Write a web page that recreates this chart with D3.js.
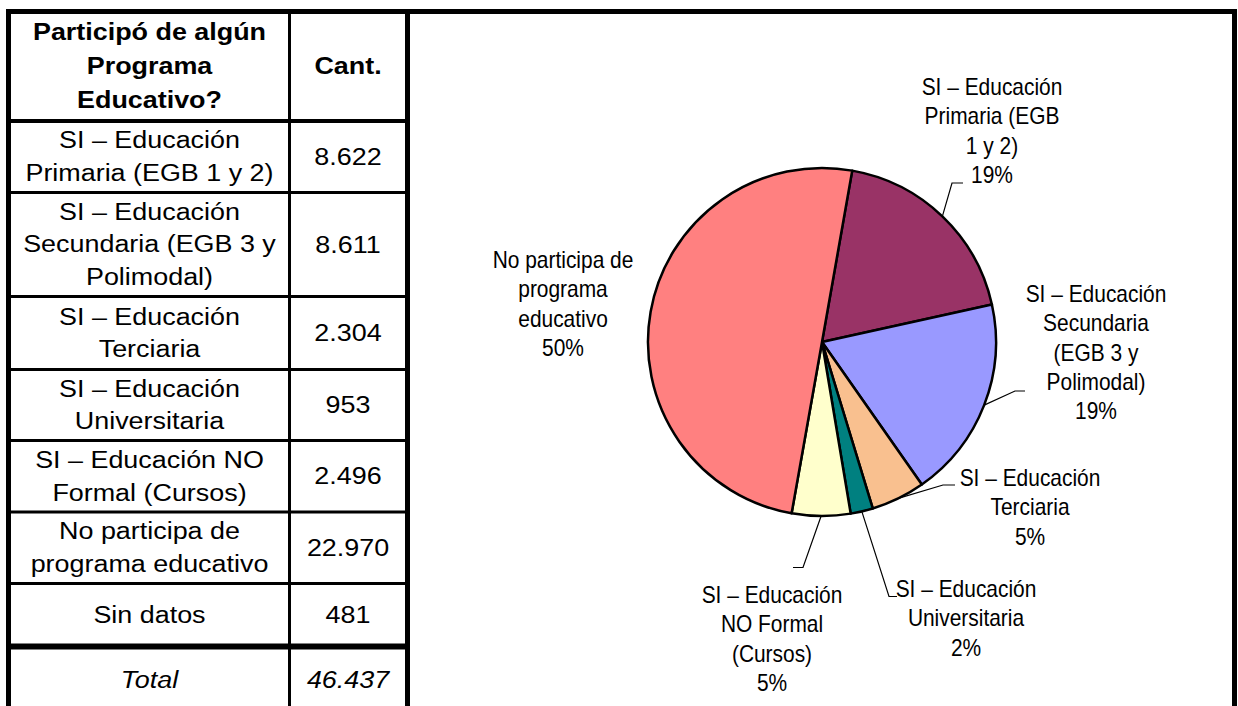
<!DOCTYPE html>
<html>
<head>
<meta charset="utf-8">
<script src="https://cdn.jsdelivr.net/npm/d3@7"></script>
<style>
  body { margin: 0; background: #fff; }
  svg { display: block; font-family: "Liberation Sans", Arial, sans-serif; }
</style>
</head>
<body>
<svg width="1238" height="706"></svg>
<script>
// table data
const headerLines = ["Participó de algún", "Programa", "Educativo?"];
const countHeader = "Cant.";
const rowLabels = [
  ["SI – Educación", "Primaria (EGB 1 y 2)"],
  ["SI – Educación", "Secundaria (EGB 3 y", "Polimodal)"],
  ["SI – Educación", "Terciaria"],
  ["SI – Educación", "Universitaria"],
  ["SI – Educación NO", "Formal (Cursos)"],
  ["No participa de", "programa educativo"],
  ["Sin datos"]
];
const counts = [8622, 8611, 2304, 953, 2496, 22970, 481];
const totalLabel = "Total";

// pie data (Sin datos not drawn)
const pieKeys = ["primaria", "secundaria", "terciaria", "universitaria", "noformal", "noparticipa"];
const pieValues = counts.slice(0, 6);
const pieLabels = [
  ["SI – Educación", "Primaria (EGB", "1 y 2)"],
  ["SI – Educación", "Secundaria", "(EGB 3 y", "Polimodal)"],
  ["SI – Educación", "Terciaria"],
  ["SI – Educación", "Universitaria"],
  ["SI – Educación", "NO Formal", "(Cursos)"],
  ["No participa de", "programa", "educativo"]
];
const pieColors = ["#993366", "#9999FF", "#F9C08F", "#008080", "#FFFFCC", "#FF8080"];

// label placement (Excel style, leader elbows)
const labelLayout = {
  primaria:      { elbow: [952, 183], end: [963, 183], text: [992, 95] },
  secundaria:    { elbow: [1015, 391], end: [1025, 391], text: [1096, 302] },
  terciaria:     { elbow: [943, 485], end: [955, 485], text: [1030, 486] },
  universitaria: { elbow: [889, 596.5], end: [897, 596.5], text: [966, 597] },
  noformal:      { elbow: [803, 567.5], end: [793, 567.5], text: [772, 603] },
  noparticipa:   { text: [563, 268] }
};

const svg = d3.select("svg");
const es = d3.formatLocale({decimal: ",", thousands: ".", grouping: [3], currency: ["$", ""]});
const fmt = es.format(",");

// writes a block of centred lines, squeezed / stretched horizontally
function block(g, lines, cx, y0, lh, size, sx, weight, style) {
  const t = g.append("text")
    .attr("transform", `translate(${cx},${y0}) scale(${sx},1)`)
    .attr("text-anchor", "middle")
    .attr("font-size", size)
    .attr("font-weight", weight || "normal")
    .attr("font-style", style || "normal")
    .attr("fill", "#000");
  lines.forEach((l, i) => {
    t.append("tspan").attr("x", 0).attr("y", i * lh).text(l);
  });
}

// ---------- table ----------
const tbl = svg.append("g");
const colX = [8.5, 289.5, 407.5];
const rowY = [11.5, 121, 192.5, 296.5, 369.5, 440.5, 512, 583.5, 646.5, 713];
const rowW = [5, 4, 3, 3, 3, 3, 3, 3, 6, 5];
const c1 = 149.5, c2 = 348;
const tSize = 23, tSx = 1.17, cap = 8;

tbl.selectAll("line.h").data(rowY).enter().append("line")
  .attr("x1", 6).attr("x2", 410)
  .attr("y1", d => d).attr("y2", d => d)
  .attr("stroke", "#000").attr("stroke-width", (d, i) => rowW[i]);
tbl.selectAll("line.v").data(colX).enter().append("line")
  .attr("x1", d => d).attr("x2", d => d)
  .attr("y1", 9).attr("y2", 720)
  .attr("stroke", "#000").attr("stroke-width", (d, i) => i == 1 ? 3 : 5);

// chart frame
svg.append("line").attr("x1", 405).attr("x2", 1237).attr("y1", 11.5).attr("y2", 11.5)
  .attr("stroke", "#000").attr("stroke-width", 5);
svg.append("line").attr("x1", 1234.5).attr("x2", 1234.5).attr("y1", 9).attr("y2", 720)
  .attr("stroke", "#000").attr("stroke-width", 5);

function cellMid(i) { return (rowY[i] + rowY[i + 1]) / 2; }

block(tbl, headerLines, c1, cellMid(0) - 34 + cap, 34, tSize, tSx, "bold");
block(tbl, [countHeader], c2, cellMid(0) + cap, 34, tSize, tSx, "bold");

rowLabels.forEach((lines, i) => {
  const cy = cellMid(i + 1);
  block(tbl, lines, c1, cy - (lines.length - 1) / 2 * 33 + cap, 33, tSize, tSx);
  block(tbl, [fmt(counts[i])], c2, cy + cap, 33, tSize, tSx);
});
const totCy = cellMid(rowLabels.length + 1);
block(tbl, [totalLabel], c1, totCy + cap, 33, tSize, tSx, "normal", "italic");
block(tbl, [fmt(d3.sum(counts))], c2, totCy + cap, 33, tSize, tSx, "normal", "italic");

// ---------- pie ----------
const cx = 822, cy = 342, r = 174;
const pieSum = d3.sum(pieValues);
const pie = d3.pie().sort(null).value(d => d)
  .startAngle(10 * Math.PI / 180).endAngle(370 * Math.PI / 180);
const arcs = pie(pieValues);
const arc = d3.arc().innerRadius(0).outerRadius(r);
const rim = d3.arc().innerRadius(r).outerRadius(r);

const pg = svg.append("g").attr("transform", `translate(${cx},${cy})`);
pg.selectAll("path").data(arcs).enter().append("path")
  .attr("d", arc)
  .attr("fill", (d, i) => pieColors[i])
  .attr("stroke", "#000").attr("stroke-width", 2.5).attr("stroke-linejoin", "round");

// leader lines
arcs.forEach((a, i) => {
  const L = labelLayout[pieKeys[i]];
  if (!L.elbow) return;
  const p = rim.centroid(a);
  svg.append("polyline")
    .attr("points", [[cx + p[0], cy + p[1]], L.elbow, L.end].map(q => q.join(",")).join(" "))
    .attr("fill", "none").attr("stroke", "#000").attr("stroke-width", 1.2);
});

// labels
const lg = svg.append("g");
arcs.forEach((a, i) => {
  const L = labelLayout[pieKeys[i]];
  const pct = Math.round(pieValues[i] / pieSum * 100) + "%";
  block(lg, pieLabels[i].concat([pct]), L.text[0], L.text[1], 29.3, 23, 0.91);
});
</script>
</body>
</html>
